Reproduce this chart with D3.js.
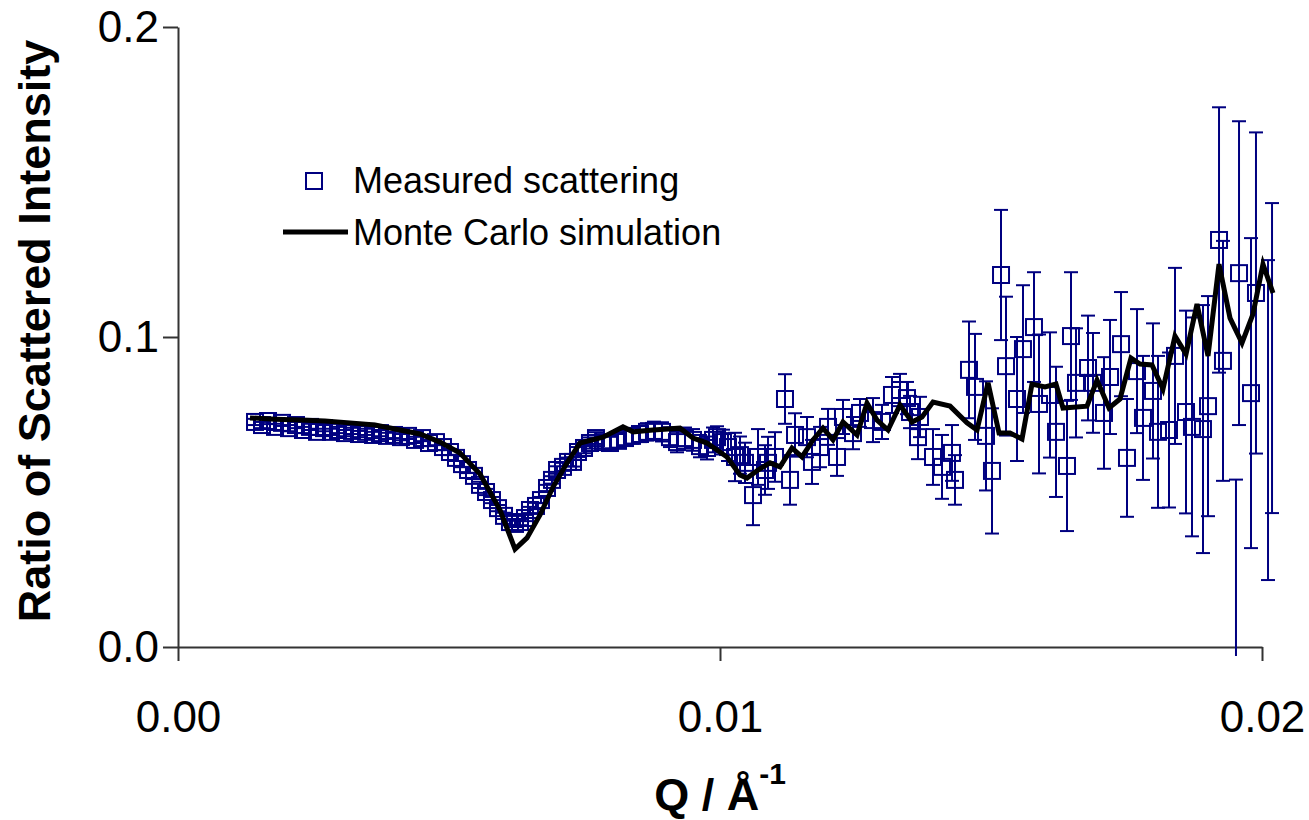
<!DOCTYPE html>
<html>
<head>
<meta charset="utf-8">
<style>
  body { margin: 0; background: #fff; }
  svg text { font-family: "Liberation Sans", Arial, sans-serif; }
</style>
</head>
<body>
<div id="chart"></div>
<script src="https://d3js.org/d3.v7.min.js"></script>
<script>
// measured scattering: Q, ratio, error
var measQ = [0.001421,0.001550,0.001661,0.001790,0.001919,0.002048,0.002177,0.002306,0.002435,0.002565,
  0.002694,0.002823,0.002952,0.003081,0.003210,0.003339,0.003469,0.003598,0.003727,0.003856,
  0.003985,0.004114,0.004244,0.004373,0.004502,0.004631,0.004760,0.004889,0.005018,0.005129,
  0.005240,0.005351,0.005461,0.005572,0.005683,0.005793,0.005904,0.006015,0.006125,0.006218,
  0.006310,0.006402,0.006494,0.006605,0.006697,0.006808,0.006900,0.006993,0.007103,0.007196,
  0.007288,0.007380,0.007491,0.007601,0.007712,0.007841,0.007970,0.008118,0.008247,0.008376,
  0.008524,0.008653,0.008782,0.008930,0.009077,0.009207,0.009354,0.009502,0.009631,0.009760,
  0.009871,0.009945,0.010055,0.010148,0.010277,0.010369,0.010461,0.010609,0.010701,0.010830,
  0.010886,0.011015,0.011199,0.011292,0.011384,0.011605,0.011697,0.011845,0.011993,0.012159,
  0.012269,0.012454,0.012583,0.012823,0.012989,0.013173,0.013321,0.013450,0.013506,0.013653,
  0.013690,0.013930,0.014096,0.014280,0.014336,0.014594,0.014705,0.014908,0.015018,0.015185,
  0.015277,0.015480,0.015590,0.015793,0.015886,0.016089,0.016199,0.016402,0.016476,0.016568,
  0.016790,0.016882,0.017085,0.017196,0.017399,0.017509,0.017694,0.017804,0.017989,0.018081,
  0.018284,0.018395,0.018598,0.018708,0.018911,0.019004,0.019207,0.019280,0.019520,0.019576,
  0.019797,0.019889,0.020111,0.020185];
var measR = [0.0726,0.0716,0.0729,0.0710,0.0723,0.0706,0.0716,0.0700,0.0710,0.0694,
  0.0706,0.0694,0.0700,0.0690,0.0697,0.0687,0.0694,0.0684,0.0690,0.0681,
  0.0684,0.0677,0.0681,0.0668,0.0674,0.0658,0.0661,0.0645,0.0629,0.0610,
  0.0590,0.0571,0.0552,0.0523,0.0500,0.0474,0.0448,0.0423,0.0403,0.0397,
  0.0403,0.0416,0.0442,0.0455,0.0474,0.0513,0.0539,0.0571,0.0581,0.0597,
  0.0597,0.0629,0.0642,0.0658,0.0674,0.0661,0.0658,0.0665,0.0674,0.0681,
  0.0687,0.0694,0.0697,0.0694,0.0677,0.0661,0.0674,0.0668,0.0648,0.0642,
  0.0668,0.0677,0.0661,0.0645,0.0613,0.0619,0.0594,0.0490,0.0613,0.0571,
  0.0594,0.0613,0.0800,0.0539,0.0684,0.0677,0.0597,0.0645,0.0710,0.0613,
  0.0742,0.0690,0.0755,0.0732,0.0726,0.0813,0.0829,0.0803,0.0758,0.0677,
  0.0742,0.0613,0.0581,0.0626,0.0539,0.0894,0.0839,0.0681,0.0568,0.1200,
  0.0906,0.0800,0.0961,0.1032,0.0784,0.0813,0.0694,0.0584,0.1003,0.0852,
  0.0900,0.0852,0.0755,0.0871,0.0977,0.0610,0.0890,0.0739,0.0826,0.0694,
  0.0700,0.0939,0.0758,0.0710,0.0703,0.0777,0.1313,0.0923,-0.0200,0.1206,
  0.0819,0.1142,0.0732,0.0932];
var measErr = [0.001,0.001,0.001,0.001,0.001,0.001,0.001,0.001,0.001,0.001,
  0.001,0.001,0.001,0.001,0.001,0.001,0.001,0.001,0.001,0.001,
  0.001,0.001,0.001,0.001,0.001,0.001,0.001,0.001,0.001,0.001,
  0.001,0.001,0.001,0.001,0.001,0.001,0.001,0.001,0.001,0.001,
  0.001,0.001,0.001,0.001,0.001,0.001,0.0012,0.0012,0.0013,0.0014,
  0.0015,0.0016,0.0017,0.0018,0.0019,0.002,0.002,0.0022,0.0023,0.0025,
  0.0026,0.0028,0.003,0.0031,0.0032,0.0033,0.0034,0.0035,0.0036,0.0037,
  0.004,0.0035,0.004,0.0045,0.0078,0.006,0.0065,0.0097,0.009,0.008,
  0.0084,0.008,0.008,0.008,0.007,0.0065,0.0071,0.0065,0.0058,0.0061,
  0.0055,0.0052,0.0045,0.0071,0.0055,0.0058,0.0052,0.0052,0.0052,0.0071,
  0.0065,0.009,0.0103,0.009,0.008,0.0156,0.0171,0.0176,0.0202,0.021,
  0.0224,0.020,0.0206,0.0177,0.0224,0.0202,0.021,0.021,0.0206,0.0176,
  0.0169,0.0161,0.018,0.0184,0.0168,0.019,0.020,0.020,0.0218,0.0245,
  0.025,0.0284,0.0327,0.0353,0.040,0.0355,0.0428,0.0387,0.0740,0.049,
  0.050,0.0518,0.0516,0.050];

// Monte Carlo simulation
var simQ = [0.001328,0.001790,0.002251,0.002712,0.003173,0.003635,0.004096,0.004465,0.004834,0.005203,
  0.005572,0.005941,0.006218,0.006439,0.006679,0.006919,0.007177,0.007417,0.007841,0.008210,
  0.008395,0.008764,0.009262,0.009502,0.009760,0.010129,0.010369,0.010498,0.010701,0.010923,
  0.011107,0.011328,0.011513,0.011716,0.011900,0.012085,0.012269,0.012528,0.012712,0.012897,
  0.013100,0.013321,0.013542,0.013727,0.013930,0.014244,0.014557,0.014742,0.014945,0.015148,
  0.015351,0.015572,0.015756,0.015996,0.016199,0.016328,0.016771,0.016956,0.017177,0.017380,
  0.017583,0.017749,0.017970,0.018173,0.018395,0.018598,0.018801,0.019004,0.019207,0.019410,
  0.019631,0.019834,0.020018,0.020203];
var simR = [0.0739,0.0735,0.0732,0.0729,0.0723,0.0716,0.0700,0.0687,0.0661,0.0626,
  0.0558,0.0442,0.0316,0.0352,0.0426,0.0516,0.0594,0.0658,0.0677,0.0710,
  0.0694,0.0700,0.0706,0.0674,0.0658,0.0613,0.0555,0.0545,0.0571,0.0594,
  0.0581,0.0642,0.0613,0.0668,0.0706,0.0668,0.0726,0.0684,0.0787,0.0732,
  0.0700,0.0781,0.0726,0.0742,0.0790,0.0777,0.0723,0.0700,0.0852,0.0690,
  0.0690,0.0671,0.0848,0.0839,0.0848,0.0771,0.0777,0.0861,0.0771,0.0800,
  0.0932,0.0913,0.0910,0.0832,0.1003,0.0945,0.1106,0.0939,0.1235,0.1061,
  0.0981,0.1074,0.1235,0.1142];

var xTicks = [0, 0.01, 0.02];
var yTicks = [0, 0.1, 0.2];

var width = 1309, height = 820;
var navy = "#000080";

var svg = d3.select("#chart").append("svg")
  .attr("width", width)
  .attr("height", height);

var x = d3.scaleLinear().domain([0, 0.02]).range([178, 1262]);
var y = d3.scaleLinear().domain([0, 0.2]).range([647, 27]);

// plot area clip (a little below the x axis, like the original)
svg.append("clipPath").attr("id", "plot")
  .append("rect").attr("x", 0).attr("y", 0).attr("width", width).attr("height", 656);

// axes
var xAxis = svg.append("g")
  .attr("transform", "translate(0," + y(0) + ")")
  .call(d3.axisBottom(x).tickValues(xTicks).tickFormat(d3.format(".2f"))
    .tickSize(14).tickSizeOuter(0).tickPadding(40));
var yAxis = svg.append("g")
  .attr("transform", "translate(" + x(0) + ",0)")
  .call(d3.axisLeft(y).tickValues(yTicks).tickFormat(d3.format(".1f"))
    .tickSize(15).tickSizeOuter(0).tickPadding(4));

[xAxis, yAxis].forEach(function (g) {
  g.selectAll("path, line").attr("stroke", "#333").attr("stroke-width", 2);
  g.selectAll("text").attr("fill", "#000")
    .style("font-size", "44px")
    .style("font-family", "'Liberation Sans', Arial, sans-serif");
});

var meas = measQ.map(function (q, i) { return { q: q, r: measR[i], e: measErr[i] }; });
var sim = simQ.map(function (q, i) { return { q: q, r: simR[i] }; });

var plot = svg.append("g").attr("clip-path", "url(#plot)");

// error bars
var bars = plot.append("g").attr("stroke", navy).attr("stroke-width", 2).attr("fill", "none");
var capW = 7;
meas.forEach(function (d) {
  var cx = x(d.q), top = y(d.r + d.e), bot = y(d.r - d.e);
  bars.append("line").attr("x1", cx).attr("x2", cx).attr("y1", top).attr("y2", bot);
  bars.append("line").attr("x1", cx - capW).attr("x2", cx + capW).attr("y1", top).attr("y2", top);
  bars.append("line").attr("x1", cx - capW).attr("x2", cx + capW).attr("y1", bot).attr("y2", bot);
});

// square markers (only inside the axis range)
var sq = 16;
plot.append("g").selectAll("rect")
  .data(meas.filter(function (d) { return d.q <= 0.02; }))
  .enter().append("rect")
    .attr("x", function (d) { return x(d.q) - sq / 2; })
    .attr("y", function (d) { return y(d.r) - sq / 2; })
    .attr("width", sq)
    .attr("height", sq)
    .attr("fill", "none")
    .attr("stroke", navy)
    .attr("stroke-width", 2);

// simulation line
var line = d3.line()
  .x(function (d) { return x(d.q); })
  .y(function (d) { return y(d.r); });

plot.append("path")
  .datum(sim)
  .attr("d", line)
  .attr("fill", "none")
  .attr("stroke", "#000")
  .attr("stroke-width", 5)
  .attr("stroke-linejoin", "miter");

// legend
var legend = svg.append("g");
legend.append("rect")
  .attr("x", 306).attr("y", 173).attr("width", 16).attr("height", 16)
  .attr("fill", "none").attr("stroke", navy).attr("stroke-width", 2);
legend.append("text")
  .attr("x", 353).attr("y", 193)
  .style("font-size", "36px")
  .text("Measured scattering");
legend.append("line")
  .attr("x1", 283).attr("x2", 348).attr("y1", 232).attr("y2", 232)
  .attr("stroke", "#000").attr("stroke-width", 5);
legend.append("text")
  .attr("x", 353).attr("y", 245)
  .style("font-size", "36px")
  .text("Monte Carlo simulation");

// axis titles
svg.append("text")
  .attr("transform", "translate(50,331) rotate(-90)")
  .attr("text-anchor", "middle")
  .style("font-size", "45px")
  .style("font-weight", "bold")
  .text("Ratio of Scattered Intensity");

var xt = svg.append("text")
  .attr("x", 720).attr("y", 810)
  .attr("text-anchor", "middle")
  .style("font-size", "45px")
  .style("font-weight", "bold");
xt.append("tspan").text("Q / Å");
xt.append("tspan").attr("dy", -26).style("font-size", "30px").text("-1");
</script>
</body>
</html>
